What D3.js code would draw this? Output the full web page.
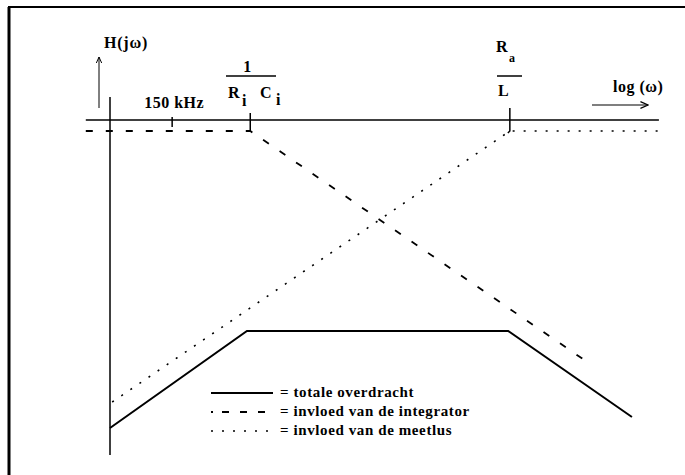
<!DOCTYPE html>
<html>
<head>
<meta charset="utf-8">
<script src="https://cdn.jsdelivr.net/npm/d3@7"></script>
<style>
  html, body { margin: 0; padding: 0; background: #fff; }
  svg text { font-family: "Liberation Serif", "DejaVu Serif", serif; font-weight: bold; fill: #000; }
</style>
</head>
<body>
<svg id="chart" width="685" height="475"></svg>
<script>
// ---- data (log ω in arbitrary decades, magnitude in dB relative to the asymptote) ----
const xAxisExtent = [-0.44, 9.98];      // horizontal log(ω) axis
const axisLevel = 2.75;                  // level of horizontal axis line
const f150 = 1.13;                       // 150 kHz marker
const omegaRC = 2.55;                    // 1/(Ri Ci)
const omegaL = 7.27;                     // Ra/L
const integratorX = [-0.44, 2.55, 8.73];
const integratorY = [0, 0, -58.25];
const meetlusX = [0.04, 7.27, 10.1];
const meetlusY = [-67.75, 0, 0];
const totalX = [0, 2.49, 7.24, 9.49];
const totalY = [-74.25, -50, -50, -71.5];
const legendLabels = ["= totale overdracht", "= invloed van de integrator", "= invloed van de meetlus"];
const legendStyles = ["solid", "dashed", "dotted"];

const svg = d3.select("#chart");
const x = d3.scaleLinear().domain([0, 10]).range([110, 660]);
const y = d3.scaleLinear().domain([0, -80]).range([131, 451]);

// frame
svg.append("line").attr("x1", 9).attr("y1", 7).attr("x2", 9).attr("y2", 475)
  .attr("stroke", "#000").attr("stroke-width", 3);
svg.append("line").attr("x1", 8).attr("y1", 7).attr("x2", 685).attr("y2", 7)
  .attr("stroke", "#000").attr("stroke-width", 2);

// axes
svg.append("line").attr("x1", x(xAxisExtent[0])).attr("x2", x(xAxisExtent[1]))
  .attr("y1", y(axisLevel)).attr("y2", y(axisLevel))
  .attr("stroke", "#000").attr("stroke-width", 1.5);
svg.append("line").attr("x1", x(0)).attr("x2", x(0)).attr("y1", 97).attr("y2", 455)
  .attr("stroke", "#000").attr("stroke-width", 1.5);

// ticks
svg.append("line").attr("x1", x(f150)).attr("x2", x(f150)).attr("y1", 117).attr("y2", 127)
  .attr("stroke", "#000").attr("stroke-width", 1.5);
svg.append("line").attr("x1", x(omegaRC)).attr("x2", x(omegaRC)).attr("y1", 113).attr("y2", 132)
  .attr("stroke", "#000").attr("stroke-width", 1.5);
svg.append("path").attr("d", `M${x(omegaL)},108 L${x(omegaL)},131 L${x(omegaL) - 2},133`)
  .attr("stroke", "#000").attr("fill", "none").attr("stroke-width", 1.5);

// arrows
svg.append("defs").append("marker").attr("id", "arr").attr("viewBox", "0 0 10 10")
  .attr("refX", 9).attr("refY", 5).attr("markerWidth", 7).attr("markerHeight", 7)
  .attr("orient", "auto-start-reverse").append("path").attr("d", "M0,1 L9,5 L0,9")
  .attr("fill", "none").attr("stroke", "#000").attr("stroke-width", 1.4);
svg.append("line").attr("x1", 99).attr("x2", 99).attr("y1", 108).attr("y2", 57)
  .attr("stroke", "#000").attr("stroke-width", 1).attr("marker-end", "url(#arr)");
svg.append("line").attr("x1", 592).attr("x2", 648).attr("y1", 105).attr("y2", 105)
  .attr("stroke", "#000").attr("stroke-width", 1.2).attr("marker-end", "url(#arr)");

// labels
svg.append("text").attr("x", 104).attr("y", 48).attr("font-size", 16).attr("letter-spacing", 0.8).text("H(jω)");
svg.append("text").attr("x", x(f150) + 2).attr("y", 108).attr("text-anchor", "middle").attr("font-size", 16).attr("letter-spacing", 0.5).text("150 kHz");
svg.append("text").attr("x", 613).attr("y", 92).attr("font-size", 16).attr("letter-spacing", 0.5).text("log (ω)");

// 1/(Ri Ci)
svg.append("text").attr("x", x(omegaRC) - 3).attr("y", 72).attr("text-anchor", "middle").attr("font-size", 16).text("1");
svg.append("line").attr("x1", 226).attr("x2", 276).attr("y1", 76).attr("y2", 76).attr("stroke", "#000").attr("stroke-width", 1.5);
svg.append("text").attr("x", 228).attr("y", 98).attr("font-size", 16).text("R");
svg.append("text").attr("x", 242).attr("y", 106).attr("font-size", 16).text("i");
svg.append("text").attr("x", 260).attr("y", 98).attr("font-size", 16).text("C");
svg.append("text").attr("x", 276).attr("y", 105).attr("font-size", 16).text("i");

// Ra/L
svg.append("text").attr("x", 496).attr("y", 52).attr("font-size", 16).text("R");
svg.append("text").attr("x", 509).attr("y", 62).attr("font-size", 12).text("a");
svg.append("line").attr("x1", 497).attr("x2", 522).attr("y1", 76).attr("y2", 76).attr("stroke", "#000").attr("stroke-width", 1.5);
svg.append("text").attr("x", 498).attr("y", 96).attr("font-size", 16).text("L");

// series
const line = d3.line().x(d => x(d[0])).y(d => y(d[1]));
const integrator = integratorX.map((v, i) => [v, integratorY[i]]);
const meetlus = meetlusX.map((v, i) => [v, meetlusY[i]]);
const total = totalX.map((v, i) => [v, totalY[i]]);

const styles = {
  solid: { dash: null, width: 2 },
  dashed: { dash: "7,13", width: 1.8 },
  dotted: { dash: "2,9", width: 1.6 }
};

svg.append("path").datum(integrator).attr("d", line).attr("fill", "none")
  .attr("stroke", "#000").attr("stroke-width", styles.dashed.width).attr("stroke-dasharray", styles.dashed.dash);
svg.append("path").datum(meetlus).attr("d", line).attr("fill", "none")
  .attr("stroke", "#000").attr("stroke-width", styles.dotted.width).attr("stroke-dasharray", styles.dotted.dash);
svg.append("path").datum(total).attr("d", line).attr("fill", "none")
  .attr("stroke", "#000").attr("stroke-width", styles.solid.width);

// legend
const lg = svg.append("g");
legendLabels.forEach((lab, i) => {
  const yy = 393 + i * 19;
  const st = styles[legendStyles[i]];
  lg.append("line").attr("x1", 211).attr("x2", 273).attr("y1", yy).attr("y2", yy)
    .attr("stroke", "#000").attr("stroke-width", st.width)
    .attr("stroke-dasharray", legendStyles[i] === "dashed" ? "2,9,7,11,7,11,7,20" : st.dash);
  lg.append("text").attr("x", 280).attr("y", yy + 4).attr("font-size", 15).attr("letter-spacing", 0.6).text(lab);
});
</script>
</body>
</html>
